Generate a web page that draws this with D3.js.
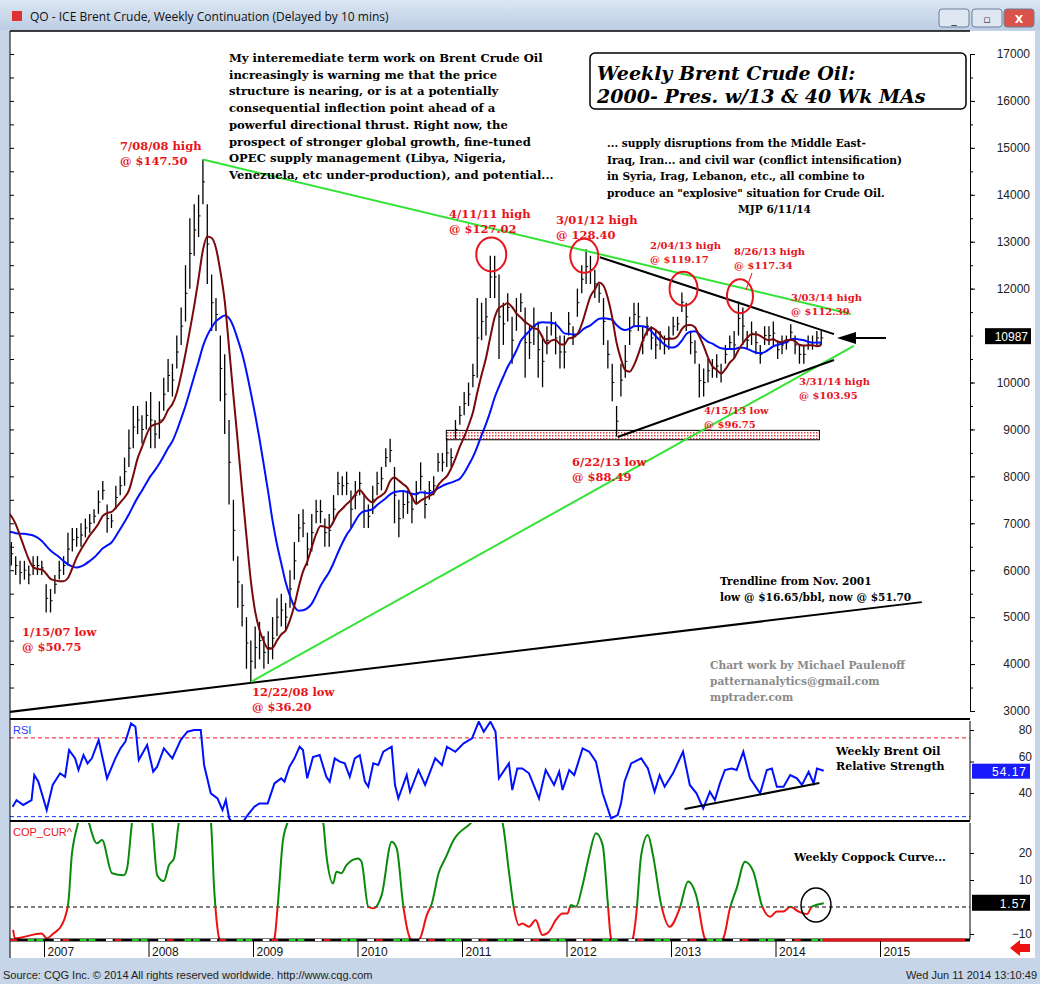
<!DOCTYPE html>
<html>
<head>
<meta charset="UTF-8">
<title>QO - ICE Brent Crude, Weekly Continuation</title>
<script src="https://cdn.jsdelivr.net/npm/d3@7"></script>
<style>
  body { margin: 0; background: #c9d7e8; }
  svg { display: block; }
  .note { font-family: "DejaVu Serif", serif; font-weight: bold; }
  .red { fill: #e8141c; }
  .ax text { font-family: Arial, "Liberation Sans", sans-serif; font-size: 12px; }
</style>
</head>
<body>
<div id="chart"></div>
<script>
// ---- data ----
// half-month bars [low, high] in $, starting Jan 2006
var barStart = 2006;
var priceBars = [
 [61,66],[63,68],[59,63],[58,62],[60,64],[62,66],[66,71],[70,74],[68,73],[67,71],[67,71],[69,73],
 [72,77],[73,78],[71,76],[69,73],[61,66],[59,63],[57,62],[58,62],[57,61],[59,63],[59,63],[59,62],
 [51,57],[51,56],[55,59],[58,62],[59,63],[61,68],[64,69],[65,69],[65,70],[67,71],[68,72],[70,73],
 [72,77],[75,79],[68,74],[69,72],[73,78],[76,80],[78,84],[82,90],[86,95],[89,95],[87,93],[90,96],
 [86,98],[86,92],[88,96],[94,101],[98,105],[97,104],[103,110],[108,116],[113,125],[120,135],[127,138],[131,140],
 [138,147.5],[121,138],[111,123],[111,118],[96,110],[89,106],[74,92],[62,75],[52,63],[48,57],[39,50],[36.2,45],
 [39,48],[41,49],[39,46],[40,47],[41,50],[46,54],[48,55],[47,53],[52,60],[58,66],[66,72],[67,73],
 [61,68],[64,72],[70,75],[70,75],[65,71],[65,72],[70,76],[76,81],[76,80],[76,81],[69,77],[73,79],
 [76,81],[69,76],[69,74],[72,78],[76,81],[77,82],[82,86],[83,88],[70,82],[67,75],[71,77],[72,77],
 [70,76],[74,79],[77,83],[71,77],[75,79],[76,80],[81,85],[81,85],[82,88],[82,86],[88,92],[91,95],
 [93,98],[95,100],[99,104],[101,118],[109,117],[110,118],[118,127],[118,127],[105,123],[108,117],[113,119],[104,114],
 [111,118],[115,119],[101,116],[105,112],[108,116],[101,113],[99,110],[106,112],[110,115],[106,113],[103,110],[103,110],
 [110,115],[108,112],[114,120],[119,125],[121,128.4],[121,127],[118,124],[117,121],[108,118],[103,109],[96,104],[88.5,95],
 [97,104],[101,108],[108,114],[112,117],[111,117],[106,112],[110,114],[107,112],[105,111],[107,111],[106,110],[107,112],
 [110,114],[111,114],[115,119.2],[111,117],[106,111],[104,109],[96.8,104],[97,103],[100,105],[101,105],[101,106],[100,104],
 [104,108],[107,110],[105,111],[110,117.3],[108,116],[107,111],[108,113],[106,111],[104,108],[108,112],[108,112],[108,113],
 [105,109],[106,110],[107,110],[109,112.4],[106,110],[104,108],[104,108],[107,110],[107,110],[108,111],[108,111]
];
var priceTicks = [30,40,50,60,70,80,90,100,120,130,140,150,160,170];
var lastPrice = 109.87;

var rsiDates = [2006.70,2006.737,2006.801,2006.881,2006.907,2006.946,2007.026,2007.083,2007.154,2007.202,2007.240,2007.298,2007.330,2007.378,2007.417,2007.458,2007.523,2007.603,2007.683,2007.731,2007.779,2007.833,2007.875,2007.907,2007.987,2008.045,2008.083,2008.147,2008.228,2008.308,2008.372,2008.436,2008.500,2008.532,2008.596,2008.660,2008.708,2008.740,2008.772,2008.821,2008.885,2008.949,2009.013,2009.061,2009.141,2009.205,2009.269,2009.301,2009.349,2009.397,2009.446,2009.478,2009.519,2009.574,2009.638,2009.702,2009.734,2009.782,2009.830,2009.878,2009.926,2009.974,2010.022,2010.071,2010.103,2010.151,2010.199,2010.247,2010.327,2010.359,2010.391,2010.471,2010.503,2010.583,2010.647,2010.744,2010.808,2010.856,2010.936,2011.016,2011.096,2011.160,2011.208,2011.272,2011.321,2011.353,2011.449,2011.481,2011.529,2011.577,
 2011.641,2011.737,2011.801,2011.881,2011.930,2011.962,2012.026,2012.074,2012.154,2012.218,2012.282,2012.346,2012.426,2012.490,2012.522,2012.555,2012.619,2012.715,2012.779,2012.843,2012.891,2012.939,2013.019,2013.115,2013.180,2013.244,2013.308,2013.372,2013.420,2013.468,2013.516,2013.580,2013.628,2013.692,2013.756,2013.853,2013.917,2013.965,2014.013,2014.077,2014.141,2014.205,2014.253,2014.317,2014.365,2014.397,2014.462];
var rsiValues = [31.3,35.5,32.4,35.5,51.4,47.2,29.2,45.1,52.5,50.3,67.3,62,54.6,64.1,58.8,62,73.6,49.3,62,68.3,72.6,84.2,82.1,60.9,70.5,53.5,56.7,68.3,62,73.6,78.9,80,80,57.8,39.8,36.6,29.2,35.5,23.9,19.7,19.7,26,31.3,33.4,33.4,46.1,49.3,47.2,56.7,62,69.4,67.3,49.3,62.9,64.1,50.3,47.2,62,59.9,58.8,50.3,62,64.1,47.2,44,58.8,57.8,66.2,69.4,45.1,36.6,51.4,40.8,54.6,45.1,62,57.8,69.4,66.2,71.5,74.7,85.3,78.9,85.3,78.9,49.3,58.8,41.9,55.6,55.6,
 52.5,36.6,54.6,45.1,53.5,41.9,54.6,51.4,68.3,66.2,59.9,39.8,23.9,26,33.4,47.2,58.8,62,55.6,40.8,51.4,44,52.5,66.2,45.1,39.8,30.2,40.8,35.5,46.1,54.6,55.6,54.6,66.2,49.3,39.8,54.6,55.6,44,44,51.4,49.3,45.1,53.5,46.1,55.6,54.17];

var copDates = [2006.705,2006.721,2006.978,2007.026,2007.090,2007.170,2007.212,2007.234,2007.266,2007.298,2007.321,2007.372,2007.417,2007.506,2007.555,2007.651,2007.763,2007.795,2007.843,2007.939,2008.035,2008.083,2008.147,2008.196,2008.244,2008.292,2008.436,2008.596,2008.628,2008.660,2008.676,2008.949,2009.205,2009.237,2009.285,2009.333,2009.494,2009.670,2009.702,2009.766,2009.798,2009.846,2009.894,2010.006,2010.038,2010.103,2010.151,2010.231,2010.327,2010.375,2010.439,2010.503,2010.551,2010.599,2010.663,2010.712,2010.776,2010.840,2010.920,2011.096,2011.240,2011.385,2011.449,2011.497,2011.545,2011.577,
 2011.641,2011.705,2011.769,2011.833,2011.898,2011.962,2012.010,2012.042,2012.090,2012.154,2012.218,2012.282,2012.346,2012.394,2012.426,2012.529,2012.635,2012.667,2012.715,2012.779,2012.827,2012.907,2012.987,2013.083,2013.164,2013.244,2013.324,2013.410,2013.500,2013.564,2013.628,2013.708,2013.788,2013.869,2013.949,2014.013,2014.077,2014.141,2014.221,2014.301,2014.349,2014.462];
var copValues = [-8.5,-11.6,-9.8,-11.6,-9.8,-6.7,-2.4,2.0,19.3,26.7,30.4,38,32.8,23.6,24.8,12.5,11.8,14.3,31.6,45,31.6,11.8,9.6,15.5,18,31.6,45,31.6,6.9,-7.9,-11.6,-25,-11.6,0.7,24.2,31.6,45,31.6,19.3,8.7,13.1,12.5,15.5,18,16.8,0.1,-0.5,4.4,24.2,21.7,0.1,-11.6,-13,-11.6,-3,1.4,12.5,18,24.8,31.6,40,31.6,13.1,-0.5,-6.7,-6.1,
 -7.3,-4.8,-10.4,-9.1,-4.8,-2.4,-2.4,0.7,0.1,8.1,19.3,27.3,23,2.0,-11.6,-18,-11.6,-3,19.3,26.7,19.3,0.7,-7.3,-0.5,9.4,3.8,-11.6,-14,-11.6,-0.5,6.9,16.8,13.1,0.7,-3.6,-1.7,-1.7,0.1,-1.7,-2.6,0.1,1.35];

var yearTicks = [2007,2008,2009,2010,2011,2012,2013,2014,2015];

// ---- layout ----
var W = 1040, H = 984;
var L = 10, R = 970;
var svg = d3.select('#chart').append('svg').attr('width', W).attr('height', H);

var x = d3.scaleLinear().domain([2007, 2015]).range([44, 880]);
var y = d3.scaleLinear().domain([30, 170]).range([711, 54]);
var yr = d3.scaleLinear().domain([40, 80]).range([793, 730]);
var yc = d3.scaleLinear().domain([0, 20]).range([907, 853]);

// window frame
var grad = svg.append('defs').append('linearGradient').attr('id', 'tb').attr('x1', 0).attr('x2', 0).attr('y1', 0).attr('y2', 1);
grad.append('stop').attr('offset', 0).attr('stop-color', '#dbe6f3');
grad.append('stop').attr('offset', 1).attr('stop-color', '#bccde3');
svg.append('rect').attr('width', W).attr('height', H).attr('fill', '#c6d5e8');
svg.append('rect').attr('width', W).attr('height', 30).attr('fill', 'url(#tb)');
svg.append('rect').attr('x', 10).attr('y', 31).attr('width', 1025).attr('height', 927).attr('fill', '#fff');
svg.append('text').attr('x', 30).attr('y', 21).attr('font-family', 'Open Sans, sans-serif').attr('font-size', 12).attr('fill', '#111')
  .text('QO - ICE Brent Crude, Weekly Continuation (Delayed by 10 mins)');
svg.append('rect').attr('x', 12).attr('y', 11).attr('width', 10).attr('height', 10).attr('fill', '#d33');
[[939, '#dfe8f2'], [972, '#dfe8f2'], [1004, '#d9534a']].forEach(function (b, i) {
  svg.append('rect').attr('x', b[0]).attr('y', 9).attr('width', 30).attr('height', 18).attr('rx', 3)
    .attr('fill', b[1]).attr('stroke', '#6d7f96');
  svg.append('text').attr('x', b[0] + 15).attr('y', 23).attr('text-anchor', 'middle').attr('font-family', 'DejaVu Sans, sans-serif')
    .attr('font-size', 11).attr('font-weight', 'bold').attr('fill', i == 2 ? '#fff' : '#445')
    .text(i == 0 ? '_' : (i == 1 ? '▫' : 'X'));
});

// clips
var defs = svg.append('defs');
defs.append('clipPath').attr('id', 'cMain').append('rect').attr('x', L).attr('y', 31).attr('width', R - L).attr('height', 688);
defs.append('clipPath').attr('id', 'cRsi').append('rect').attr('x', L).attr('y', 721).attr('width', R - L).attr('height', 99);
defs.append('clipPath').attr('id', 'cPos').append('rect').attr('x', L).attr('y', 823).attr('width', R - L).attr('height', yc(0) - 823);
defs.append('clipPath').attr('id', 'cNeg').append('rect').attr('x', L).attr('y', yc(0)).attr('width', R - L).attr('height', 939 - yc(0));
var pat = defs.append('pattern').attr('id', 'dots').attr('width', 3).attr('height', 3).attr('patternUnits', 'userSpaceOnUse');
pat.append('rect').attr('width', 3).attr('height', 3).attr('fill', '#fff');
pat.append('rect').attr('width', 1.5).attr('height', 1.5).attr('fill', '#d44');

// ---- main price panel ----
var main = svg.append('g').attr('clip-path', 'url(#cMain)');
var bt = function (i) { return barStart + (i + 0.5) / 24; };
var mids = priceBars.map(function (b) { return (b[0] + b[1]) / 2; });
function ma(n) {
  return mids.map(function (v, i) {
    var s = mids.slice(Math.max(0, i - n + 1), i + 1);
    return [bt(i), d3.mean(s)];
  });
}

// support box
main.append('rect').attr('x', x(2010.85)).attr('y', y(89.8)).attr('width', x(2014.42) - x(2010.85))
  .attr('height', y(87.8) - y(89.8)).attr('fill', 'url(#dots)').attr('stroke', '#000');

main.selectAll('line.bar').data(priceBars).enter().append('line').attr('class', 'bar')
  .attr('x1', function (d, i) { return x(bt(i)); }).attr('x2', function (d, i) { return x(bt(i)); })
  .attr('y1', function (d) { return y(d[1]); }).attr('y2', function (d) { return y(d[0]); })
  .attr('stroke', '#000').attr('stroke-width', 1.3);
main.selectAll('line.cl').data(priceBars).enter().append('line').attr('class', 'cl')
  .attr('x1', function (d, i) { return x(bt(i)); }).attr('x2', function (d, i) { return x(bt(i)) + 2; })
  .attr('y1', function (d, i) { return y(mids[i]); }).attr('y2', function (d, i) { return y(mids[i]); })
  .attr('stroke', '#000');

var line = d3.line().x(function (d) { return x(d[0]); }).y(function (d) { return y(d[1]); }).curve(d3.curveMonotoneX);
main.append('path').attr('d', line(ma(16))).attr('fill', 'none').attr('stroke', '#0010ff').attr('stroke-width', 2);
main.append('path').attr('d', line(ma(6))).attr('fill', 'none').attr('stroke', '#7a0a0a').attr('stroke-width', 2);

// trend lines in (year, $)
var trends = [
  [[2006.67, 29.8], [2015.4, 53.2], '#000', 2],
  [[2008.52, 147.5], [2014.72, 114.6], '#33e333', 2],
  [[2008.98, 36.2], [2014.75, 107.8], '#33e333', 2],
  [[2012.32, 126.7], [2014.56, 110.3], '#000', 2],
  [[2012.49, 88.4], [2014.56, 104.8], '#000', 2]
];
trends.forEach(function (t) {
  main.append('line').attr('x1', x(t[0][0])).attr('y1', y(t[0][1])).attr('x2', x(t[1][0])).attr('y2', y(t[1][1]))
    .attr('stroke', t[2]).attr('stroke-width', t[3]);
});
// red circles around highs
[[2011.28, 127.3, 15, 17], [2012.17, 127, 14, 17], [2013.12, 120, 14, 17], [2013.66, 118.4, 13, 17]].forEach(function (c) {
  main.append('ellipse').attr('cx', x(c[0])).attr('cy', y(c[1])).attr('rx', c[2]).attr('ry', c[3])
    .attr('fill', 'none').attr('stroke', '#e8141c').attr('stroke-width', 2);
});
main.append('line').attr('x1', 752).attr('y1', 273).attr('x2', 746).attr('y2', 290).attr('stroke', '#e8141c');
// arrow
main.append('line').attr('x1', 886).attr('y1', 338).attr('x2', 850).attr('y2', 338).attr('stroke', '#000').attr('stroke-width', 2);
main.append('path').attr('d', 'M837,338 L856,332 L856,344 Z').attr('fill', '#000');

// notes
function note(tx, ty, lines, size, cls, lh) {
  var t = svg.append('text').attr('class', 'note ' + (cls || '')).attr('font-size', size);
  lines.forEach(function (s, i) { t.append('tspan').attr('x', tx).attr('y', ty + i * lh).text(s); });
  return t;
}
note(229, 62, ['My interemediate term work on Brent Crude Oil', 'increasingly is warning me that the price',
  'structure is nearing, or is at a potentially', 'consequential inflection point ahead of a',
  'powerful directional thrust. Right now, the', 'prospect of stronger global growth, fine-tuned',
  'OPEC supply management (Libya, Nigeria,', 'Venezuela, etc under-production), and potential...'], 11.6, '', 16.7);
svg.append('rect').attr('x', 590).attr('y', 53).attr('width', 376).attr('height', 56).attr('rx', 5)
  .attr('fill', '#fff').attr('stroke', '#000').attr('stroke-width', 1.5);
note(597, 80, ['Weekly Brent Crude Oil:', '2000- Pres. w/13 & 40 Wk MAs'], 19, '', 23).attr('font-style', 'italic');
note(607, 147, ['... supply disruptions from the Middle East-', 'Iraq, Iran... and civil war (conflict intensification)',
  'in Syria, Irag, Lebanon, etc., all combine to', 'produce an "explosive" situation for Crude Oil.'], 10.6, '', 16.6);
note(738, 213, ['MJP 6/11/14'], 10.6, '', 16);
note(720, 585, ['Trendline from Nov. 2001', 'low @ $16.65/bbl, now @ $51.70'], 10.6, '', 15.5);
note(710, 669, ['Chart work by Michael Paulenoff', 'patternanalytics@gmail.com', 'mptrader.com'], 10.6, '', 16).attr('fill', '#8a8a8a');

[[120, 150, '7/08/08 high', '@ $147.50', 11.5], [22, 636, '1/15/07 low', '@ $50.75', 11.5],
 [252, 696, '12/22/08 low', '@ $36.20', 11.5], [449, 218, '4/11/11 high', '@ $127.02', 11.5],
 [556, 224, '3/01/12 high', '@ 128.40', 11.5], [650, 249, '2/04/13 high', '@ $119.17', 10],
 [734, 255, '8/26/13 high', '@ $117.34', 10], [791, 301, '3/03/14 high', '@ $112.39', 10],
 [799, 385, '3/31/14 high', '@ $103.95', 10], [704, 414, '4/15/13 low', '@ $96.75', 10],
 [572, 466, '6/22/13 low', '@ $88.49', 11.5]].forEach(function (a) {
  note(a[0], a[1], [a[2], a[3]], a[4], 'red', a[4] + 3.5);
});

// ---- RSI panel ----
var rsiG = svg.append('g').attr('clip-path', 'url(#cRsi)');
[[75, '#e8141c'], [25, '#1030ff']].forEach(function (l) {
  rsiG.append('line').attr('x1', L).attr('x2', R).attr('y1', yr(l[0])).attr('y2', yr(l[0]))
    .attr('stroke', l[1]).attr('stroke-dasharray', '4,3');
});
var rsiLine = d3.line().x(function (d, i) { return x(rsiDates[i]); }).y(function (d) { return yr(d); });
rsiG.append('path').attr('d', rsiLine(rsiValues)).attr('fill', 'none').attr('stroke', '#0010ff').attr('stroke-width', 2);
rsiG.append('line').attr('x1', x(2013.13)).attr('y1', yr(29.8)).attr('x2', x(2014.42)).attr('y2', yr(46.3))
  .attr('stroke', '#000').attr('stroke-width', 2);
svg.append('text').attr('x', 13).attr('y', 734).attr('font-family', 'Arial, sans-serif').attr('font-size', 11).attr('fill', '#2040ff').text('RSI');
note(836, 755, ['Weekly Brent Oil', 'Relative Strength'], 11, '', 14.5);

// ---- Coppock panel ----
svg.append('line').attr('x1', L).attr('x2', R).attr('y1', yc(0)).attr('y2', yc(0)).attr('stroke', '#000').attr('stroke-dasharray', '4,3');
var copLine = d3.line().x(function (d, i) { return x(copDates[i]); }).y(function (d) { return yc(d); }).curve(d3.curveMonotoneX);
svg.append('path').attr('d', copLine(copValues)).attr('clip-path', 'url(#cPos)').attr('fill', 'none').attr('stroke', '#0a8a0a').attr('stroke-width', 2);
svg.append('path').attr('d', copLine(copValues)).attr('clip-path', 'url(#cNeg)').attr('fill', 'none').attr('stroke', '#ee1111').attr('stroke-width', 2);
svg.append('ellipse').attr('cx', 816).attr('cy', 905).attr('rx', 15).attr('ry', 17).attr('fill', 'none').attr('stroke', '#000').attr('stroke-width', 1.5);
svg.append('text').attr('x', 13).attr('y', 836).attr('font-family', 'Arial, sans-serif').attr('font-size', 11).attr('fill', '#e8141c').text('COP_CUR^');
note(794, 861, ['Weekly Coppock Curve...'], 11, '', 14);

// ---- frames & axes ----
[719, 821].forEach(function (yy) {
  svg.append('line').attr('x1', L).attr('x2', R).attr('y1', yy).attr('y2', yy).attr('stroke', '#000').attr('stroke-width', 2);
});
svg.append('line').attr('x1', L).attr('x2', R).attr('y1', 31).attr('y2', 31).attr('stroke', '#000').attr('stroke-width', 1.5);
svg.append('line').attr('x1', L).attr('x2', L).attr('y1', 31).attr('y2', 958).attr('stroke', '#000');

var ax = svg.append('g').attr('class', 'ax').attr('transform', 'translate(' + R + ',0)')
  .call(d3.axisRight(y).tickValues(priceTicks).tickSize(5).tickFormat(function (d) { return d * 100; }));
ax.selectAll('text').attr('text-anchor', 'end').attr('x', 60).attr('fill', '#222');
ax.select('.domain').attr('stroke', '#000');
svg.append('g').attr('transform', 'translate(' + R + ',0)')
  .call(d3.axisRight(y).tickValues(d3.range(30, 172, 5)).tickSize(3).tickFormat(''))
  .select('.domain').remove();
svg.append('g').attr('transform', 'translate(' + L + ',0)')
  .call(d3.axisRight(y).tickValues(d3.range(30, 172, 5)).tickSize(4).tickFormat(''))
  .select('.domain').remove();
svg.append('rect').attr('x', 985).attr('y', y(lastPrice) - 8).attr('width', 46).attr('height', 16).attr('fill', '#000');
svg.append('text').attr('x', 1028).attr('y', y(lastPrice) + 5).attr('text-anchor', 'end').attr('font-family', 'Arial, sans-serif')
  .attr('font-size', 12).attr('fill', '#fff').text(Math.round(lastPrice * 100));

var ar = svg.append('g').attr('class', 'ax').attr('transform', 'translate(' + R + ',0)')
  .call(d3.axisRight(yr).tickValues([40, 60, 80]).tickSize(4));
ar.selectAll('text').attr('text-anchor', 'end').attr('x', 62).attr('fill', '#222');
ar.selectAll('.tick').filter(function (d) { return d == 60; }).select('text').attr('dy', '-0.1em');
ar.select('.domain').attr('d', 'M0,721V820');
svg.append('rect').attr('x', 972).attr('y', yr(54.17) - 7).attr('width', 58).attr('height', 15).attr('fill', '#1a1aff');
svg.append('text').attr('x', 1027).attr('y', yr(54.17) + 5).attr('text-anchor', 'end').attr('font-family', 'Arial, sans-serif')
  .attr('font-size', 12).attr('fill', '#fff').attr('letter-spacing', 1).text('54.17');

var ac = svg.append('g').attr('class', 'ax').attr('transform', 'translate(' + R + ',0)')
  .call(d3.axisRight(yc).tickValues([-10, 10, 20]).tickSize(4));
ac.selectAll('text').attr('text-anchor', 'end').attr('x', 62).attr('fill', '#222');
ac.select('.domain').attr('d', 'M0,823V939');
svg.append('rect').attr('x', 972).attr('y', yc(1.57) - 8).attr('width', 58).attr('height', 16).attr('fill', '#000');
svg.append('text').attr('x', 1027).attr('y', yc(1.57) + 5).attr('text-anchor', 'end').attr('font-family', 'Arial, sans-serif')
  .attr('font-size', 12).attr('fill', '#fff').attr('letter-spacing', 1).text('1.57');

// date strip
svg.append('line').attr('x1', L).attr('x2', R).attr('y1', 940).attr('y2', 940).attr('stroke', '#000').attr('stroke-width', 3);
var months = d3.range(2006.667, 2014.45, 1 / 12);
var stripCol = ['#e8141c', '#000', '#19d919', '#19d919', '#000', '#fff'];
svg.selectAll('rect.m').data(months).enter().append('rect').attr('class', 'm')
  .attr('x', function (d) { return x(d) + 1; }).attr('y', 939).attr('width', function () { return x(1 / 12) - x(0) - 2; })
  .attr('height', 2).attr('fill', function (d, i) { return stripCol[i % 6]; });
svg.append('line').attr('x1', x(2014.45)).attr('x2', 965).attr('y1', 940).attr('y2', 940).attr('stroke', '#e8141c').attr('stroke-width', 3);
var ax2 = svg.append('g').attr('transform', 'translate(0,941)')
  .call(d3.axisBottom(x).tickValues(yearTicks).tickSize(16).tickFormat(d3.format('d')));
ax2.select('.domain').remove();
ax2.selectAll('text').attr('text-anchor', 'start').attr('x', 3).attr('y', 6).attr('font-family', 'Arial, sans-serif').attr('font-size', 12).attr('fill', '#111');
svg.append('path').attr('d', 'M1010,948 L1020,940 L1020,944 L1030,944 L1030,952 L1020,952 L1020,956 Z').attr('fill', '#ee1111');

// footer
svg.append('text').attr('x', 3).attr('y', 979).attr('font-family', 'Arial, sans-serif').attr('font-size', 11).attr('fill', '#222')
  .text('Source: CQG Inc. © 2014 All rights reserved worldwide. http://www.cqg.com');
svg.append('text').attr('x', 1037).attr('y', 979).attr('text-anchor', 'end').attr('font-family', 'Arial, sans-serif').attr('font-size', 11).attr('fill', '#222')
  .text('Wed Jun 11 2014 13:10:49');
</script>
</body>
</html>
